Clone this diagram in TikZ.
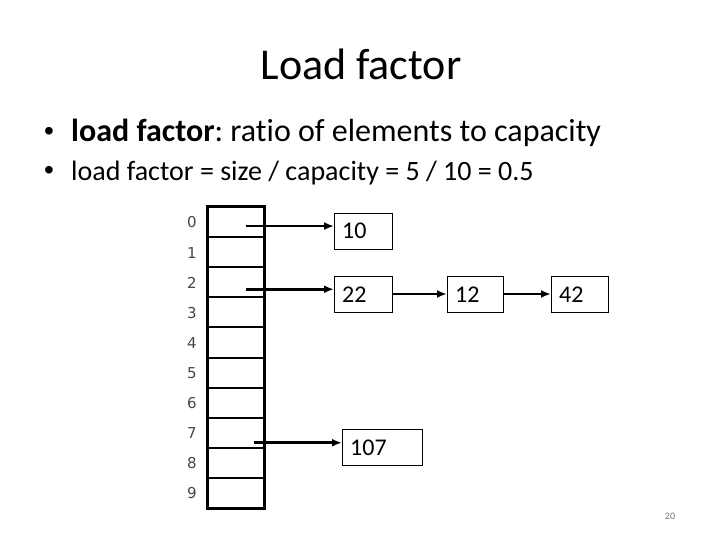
\documentclass[tikz,border=0pt]{standalone}
\usepackage{fontspec}
\setmainfont[RawFeature=-liga]{Carlito}
\newfontfamily\idxfont{DejaVu Sans}
\newfontfamily\bulfont{Liberation Sans}
\usetikzlibrary{arrows.meta,calc}
\definecolor{idxgray}{RGB}{70,70,70}
\definecolor{pggray}{RGB}{120,120,120}
\frenchspacing
\tikzset{
  cell/.style={draw,line width=2pt,minimum width=57pt,minimum height=30.1pt,inner sep=0pt,outer sep=0pt},
  idx/.style={font=\idxfont\fontsize{15}{17}\selectfont,text=idxgray,inner sep=0pt},
  valbox/.style={draw,line width=0.9pt,minimum height=36pt,inner sep=0pt,outer sep=0pt},
  val/.style={font=\fontsize{24}{28}\selectfont,inner sep=0pt,anchor=base west},
  arr/.style={line width=2.6pt,-{Latex[length=10pt,width=8pt]}},
  arrthin/.style={line width=2pt,-{Latex[length=10pt,width=8pt]}},
  bul/.style={anchor=base west,inner sep=0pt,font=\bulfont\fontsize{28}{32}\selectfont},
}
\begin{document}
\begin{tikzpicture}[x=1pt,y=-1pt]
\useasboundingbox (0,0) rectangle (720,540);
% title and bullets
\node[anchor=base,inner sep=0pt,font=\fontsize{44}{50}\selectfont] (title) at (361,80) {Load factor};
\node[bul] (b1) at (44,141) {•};
\node[anchor=base west,inner sep=0pt,font=\fontsize{32}{36}\selectfont] (t1) at (71,142) {\textbf{load factor}: ratio of elements to capacity};
\node[bul] (b2) at (44,180) {•};
\node[anchor=base west,inner sep=0pt,font=\fontsize{28}{32}\selectfont] (t2) at (71,181) {load factor = size / capacity = 5 / 10 = 0.5};
% array
\foreach \i in {0,...,9}{
  \node[cell] (c\i) at (235.5,{222.05+30.1*\i}) {};
  \node[idx] (i\i) at (192,{222.5+30.1*\i}) {\i};
}
\draw[line width=3pt] (c0.north west) rectangle (c9.south east);
% value boxes
\node[valbox,minimum width=58pt] (b10) at (363,231) {};
\node[val] (v10) at ($(b10.west)+(8,8)$) {10};
\node[valbox,minimum width=58pt] (b22) at (363,294) {};
\node[val] (v22) at ($(b22.west)+(8,8)$) {22};
\node[valbox,minimum width=56pt] (b12) at (475,294) {};
\node[val] (v12) at ($(b12.west)+(8,8)$) {12};
\node[valbox,minimum width=57pt] (b42) at (579.5,294) {};
\node[val] (v42) at ($(b42.west)+(8,8)$) {42};
\node[valbox,minimum width=80pt] (b107) at (382,447) {};
\node[val] (v107) at ($(b107.west)+(8,8)$) {107};
% arrows
\coordinate (s0) at ($(c0.center)+(10.5,4)$);
\coordinate (s2) at ($(c2.center)+(10.5,7)$);
\coordinate (s7) at ($(c7.center)+(18.5,10)$);
\draw[arr] (s0) -- (s0 -| b10.west);
\draw[arr] (s2) -- (s2 -| b22.west);
\draw[arr] (s7) -- (s7 -| b107.west);
\draw[arrthin] (b22.east) -- (b12.west);
\draw[arrthin] (b12.east) -- (b42.west);
% page number
\node[anchor=base,inner sep=0pt,font=\fontsize{10}{12}\selectfont,text=pggray] (pg) at (670,519) {20};
\end{tikzpicture}
\end{document}
